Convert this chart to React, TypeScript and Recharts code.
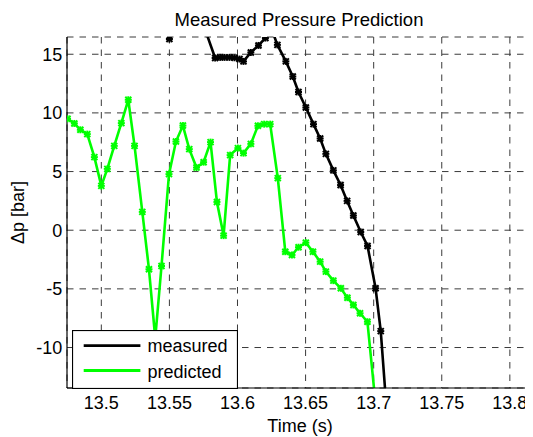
import React from 'react';
import { LineChart, Line, XAxis, YAxis, CartesianGrid, Legend } from 'recharts';

const measuredTime = [13.545, 13.55, 13.555, 13.56, 13.565, 13.57, 13.575, 13.5836, 13.5873, 13.5905, 13.5941, 13.5978, 13.6015, 13.6044, 13.6098, 13.6154, 13.6205, 13.6255, 13.6293, 13.6355, 13.6406, 13.6448, 13.6502, 13.6558, 13.6607, 13.6649, 13.6704, 13.6757, 13.6805, 13.6851, 13.6905, 13.6955, 13.7014, 13.7052, 13.7102];
const measuredValue = [24, 16.3, 24, 26, 25, 22, 17.5, 14.68, 14.73, 14.73, 14.73, 14.7, 14.59, 14.39, 15.15, 15.75, 16.38, 17.0, 15.8, 14.39, 13.1, 11.78, 10.46, 9.04, 7.82, 6.51, 5.1, 3.85, 2.5, 1.25, -0.15, -1.34, -4.95, -8.6, -16.4];

const predictedTime = [13.4752, 13.4802, 13.4846, 13.4897, 13.4949, 13.5, 13.5044, 13.5095, 13.5147, 13.5198, 13.5244, 13.5301, 13.535, 13.5396, 13.5442, 13.5497, 13.5548, 13.5599, 13.5646, 13.5699, 13.5751, 13.5802, 13.5849, 13.5898, 13.5946, 13.6003, 13.6044, 13.6098, 13.615, 13.6196, 13.624, 13.6296, 13.6351, 13.64, 13.6448, 13.6502, 13.6554, 13.6607, 13.6649, 13.6704, 13.6759, 13.6807, 13.6851, 13.69, 13.6954, 13.7007];
const predictedValue = [9.5, 9.1, 8.56, 8.19, 6.23, 3.78, 5.23, 7.19, 9.13, 11.12, 7.19, 1.56, -3.33, -9.19, -3.05, 4.78, 7.56, 8.92, 6.91, 5.34, 5.8, 7.51, 2.41, -0.46, 6.4, 7.0, 6.57, 7.36, 8.9, 9.04, 9.04, 4.44, -1.83, -2.11, -1.45, -1.06, -1.83, -2.68, -3.53, -4.3, -4.95, -5.75, -6.37, -7.08, -7.8, -14.0];

const xTicks = [13.5, 13.55, 13.6, 13.65, 13.7, 13.75, 13.8];
const yTicks = [-10, -5, 0, 5, 10, 15];
const xDomain: [number, number] = [13.4748, 13.817];
const yDomain: [number, number] = [-13.45, 16.47];

const measuredData = measuredTime.map((t, i) => ({ t, v: measuredValue[i] }));
const predictedData = predictedTime.map((t, i) => ({ t, v: predictedValue[i] }));

const FONT = '"Liberation Sans", Arial, Helvetica, sans-serif';
const GREEN = '#00ff00';
const BLACK = '#000000';

const makeDot = (color: string) => (props: any) => {
  const { cx, cy, index } = props;
  if (cx == null || cy == null || isNaN(cx) || isNaN(cy)) return <g key={`d-${index}`} />;
  const r = 3;
  return (
    <g key={`d-${index}`} stroke={color} strokeWidth={2} fill="none">
      <line x1={cx - r} y1={cy - r} x2={cx + r} y2={cy + r} />
      <line x1={cx - r} y1={cy + r} x2={cx + r} y2={cy - r} />
      <line x1={cx - r - 0.5} y1={cy} x2={cx + r + 0.5} y2={cy} />
      <line x1={cx} y1={cy - r - 0.5} x2={cx} y2={cy + r + 0.5} />
    </g>
  );
};

const LegendBox = (props: any) => {
  const payload = props.payload || [];
  return (
    <svg width={166} height={59} style={{ display: 'block' }}>
      <rect x={0.5} y={0.5} width={165} height={58} fill="#fff" stroke="#000" strokeWidth={1.2} />
      {payload.map((p: any, i: number) => (
        <g key={p.value}>
          <line x1={11.7} x2={68.4} y1={15.7 + i * 24.8} y2={15.7 + i * 24.8} stroke={p.color} strokeWidth={2.8} />
          <text x={75.4} y={22.3 + i * 25.6} fontSize={18} fontFamily={FONT} fill="#000">{p.value}</text>
        </g>
      ))}
    </svg>
  );
};

export default function App() {
  return (
    <div style={{ position: 'relative', width: 525, height: 429 }}>
      <style>{'html,body{overflow:hidden;}'}</style>
      <LineChart
        width={525}
        height={429}
        margin={{ top: 29, right: 0, bottom: 1, left: 0 }}
        style={{ fontFamily: FONT, background: '#fff' }}
      >
        <CartesianGrid stroke="#3a3a3a" strokeDasharray="6.5 6" strokeWidth={1} />
        <XAxis
          dataKey="t"
          type="number"
          domain={xDomain}
          ticks={xTicks}
          allowDataOverflow
          height={48}
          tickLine={false}
          tickSize={0}
          tickMargin={8.5}
          axisLine={{ stroke: '#000', strokeWidth: 1.2 }}
          tick={{ fontSize: 18, fill: '#000', fontFamily: FONT }}
          label={{
            content: (p: any) => {
              const vb = p.viewBox || { x: 59, y: 380, width: 466 };
              return (
                <text x={vb.x + vb.width / 2} y={vb.y + 44} textAnchor="middle" fontSize={18} fontFamily={FONT} fill="#000">
                  Time (s)
                </text>
              );
            },
          }}
        />
        <XAxis
          xAxisId="top"
          orientation="top"
          dataKey="t"
          type="number"
          domain={xDomain}
          ticks={xTicks}
          allowDataOverflow
          height={0}
          tick={false}
          tickLine={false}
          axisLine={{ stroke: '#000', strokeWidth: 1.2 }}
        />
        <YAxis
          type="number"
          domain={yDomain}
          ticks={yTicks}
          allowDataOverflow
          width={59}
          tickLine={false}
          tickSize={0}
          tickMargin={4.7}
          axisLine={{ stroke: '#000', strokeWidth: 1.2 }}
          tick={{ fontSize: 18, fill: '#000', fontFamily: FONT }}
          label={{
            content: (p: any) => {
              const vb = p.viewBox || { x: 0, y: 29, width: 59, height: 351 };
              const cx = 15.5;
              const cy = vb.y + vb.height / 2;
              return (
                <g>
                  <text x={cx} y={cy} transform={`rotate(-90, ${cx}, ${cy})`} textAnchor="middle" fontSize={18} fontFamily={FONT} fill="#000">
                    Δp [bar]
                  </text>
                  <text x={291} y={17.5} textAnchor="middle" fontSize={18.5} fontFamily={FONT} fill="#000">
                    Measured Pressure Prediction
                  </text>
                </g>
              );
            },
          }}
        />
        <Line
          data={measuredData}
          dataKey="v"
          name="measured"
          stroke={BLACK}
          strokeWidth={2.6}
          dot={makeDot(BLACK)}
          activeDot={false}
          isAnimationActive={false}
          legendType="line"
        />
        <Line
          data={predictedData}
          dataKey="v"
          name="predicted"
          stroke={GREEN}
          strokeWidth={2.6}
          dot={makeDot(GREEN)}
          activeDot={false}
          isAnimationActive={false}
          legendType="line"
        />
        <Legend
          layout="vertical"
          align="center"
          verticalAlign="middle"
          content={<LegendBox />}
          wrapperStyle={{ left: 64.3, top: 322, width: 166, height: 59, margin: 0, padding: 0 }}
        />
      </LineChart>
    </div>
  );
}
